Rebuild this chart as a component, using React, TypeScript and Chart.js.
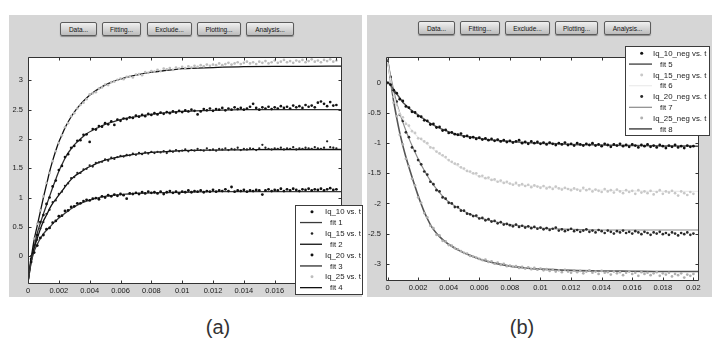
import React, { useEffect, useRef } from "react";
import { Chart, registerables } from "chart.js";

Chart.register(...registerables);

// ---------------- data ----------------
// measured points are sampled every T_STEP seconds, starting at t = 0
const T_STEP = 0.0002;

// knots of the fitted curves (s)
const FIT_T = [0, 0.0002, 0.0004, 0.0006, 0.0008, 0.001, 0.0012, 0.0014, 0.0016, 0.0018, 0.002, 0.0022, 0.0024, 0.0026, 0.0028, 0.003, 0.0034, 0.0038, 0.0042, 0.0046, 0.005, 0.0055, 0.006, 0.0065, 0.007, 0.008, 0.009, 0.01, 0.012, 0.014, 0.016, 0.018, 0.0203];

// panel (a)
const IQ10 = [-0.28, -0.1, 0.06, 0.18, 0.31, 0.36, 0.46, 0.48, 0.57, 0.6,
  0.68, 0.69, 0.77, 0.78, 0.84, 0.85, 0.9, 0.9, 0.94, 0.96,
  0.95, 0.98, 0.99, 0.97, 1.02, 1.0, 1.04, 1.02, 1.05, 1.03,
  1.06, 1.04, 0.98, 1.07, 1.06, 1.08, 1.06, 1.09, 1.07, 1.1,
  1.08, 1.09, 1.07, 1.1, 1.06, 1.09, 1.11, 1.08, 1.1, 1.07,
  1.1, 1.09, 1.12, 1.09, 1.11, 1.1, 1.12, 1.09, 1.11, 1.1,
  1.13, 1.1, 1.12, 1.11, 1.14, 1.11, 1.18, 1.1, 1.12, 1.11,
  1.13, 1.1, 1.12, 1.11, 1.13, 1.12, 1.05, 1.12, 1.14, 1.11,
  1.13, 1.12, 1.15, 1.11, 1.14, 1.12, 1.15, 1.13, 1.11, 1.14,
  1.13, 1.15, 1.12, 1.14, 1.13, 1.15, 1.12, 1.14, 1.16, 1.13,
  1.14];
const IQ15 = [-0.25, 0.0, 0.16, 0.28, 0.47, 0.58, 0.72, 0.79, 0.92, 0.95,
  1.06, 1.1, 1.2, 1.24, 1.33, 1.35, 1.42, 1.42, 1.48, 1.49,
  1.55, 1.53, 1.59, 1.6, 1.61, 1.65, 1.63, 1.68, 1.66, 1.69,
  1.71, 1.7, 1.73, 1.72, 1.75, 1.73, 1.76, 1.74, 1.77, 1.75,
  1.78, 1.76, 1.78, 1.77, 1.79, 1.76, 1.8, 1.78, 1.81, 1.79,
  1.8, 1.82, 1.79, 1.81, 1.8, 1.83, 1.81, 1.8, 1.84, 1.81,
  1.82, 1.8, 1.83, 1.82, 1.84, 1.81, 1.83, 1.82, 1.85, 1.81,
  1.83, 1.82, 1.84, 1.83, 1.81, 1.84, 1.9, 1.85, 1.83, 1.82,
  1.84, 1.83, 1.85, 1.82, 1.84, 1.83, 1.86, 1.82, 1.84, 1.83,
  1.85, 1.84, 1.83, 1.86, 1.84, 1.83, 1.85, 1.96, 1.86, 1.85,
  1.84];
const IQ20 = [-0.22, -0.05, 0.17, 0.36, 0.58, 0.7, 0.89, 1.0, 1.19, 1.29,
  1.47, 1.54, 1.69, 1.74, 1.85, 1.88, 1.97, 1.98, 2.07, 2.08,
  1.95, 2.17, 2.16, 2.22, 2.21, 2.27, 2.25, 2.3, 2.24, 2.33,
  2.31, 2.35, 2.34, 2.37, 2.36, 2.4, 2.38, 2.41, 2.39, 2.43,
  2.41, 2.44, 2.42, 2.45, 2.43, 2.46, 2.44, 2.47, 2.45, 2.48,
  2.46, 2.49, 2.47, 2.5, 2.48, 2.42, 2.47, 2.51, 2.49, 2.52,
  2.48, 2.51, 2.5, 2.53, 2.49, 2.52, 2.5, 2.54, 2.51, 2.53,
  2.5, 2.52, 2.55, 2.6, 2.53, 2.5, 2.54, 2.52, 2.55, 2.51,
  2.54, 2.52, 2.56, 2.53, 2.55, 2.52, 2.57, 2.54, 2.56, 2.53,
  2.58, 2.55, 2.57, 2.54, 2.62, 2.64, 2.6, 2.56, 2.63, 2.57,
  2.58];
const IQ25 = [-0.3, 0.0, 0.3, 0.55, 0.78, 1.02, 1.25, 1.42, 1.62, 1.79,
  1.93, 2.06, 2.2, 2.27, 2.39, 2.44, 2.52, 2.58, 2.62, 2.68,
  2.76, 2.78, 2.8, 2.86, 2.88, 2.93, 2.92, 2.97, 2.98, 3.01,
  3.03, 3.02, 3.06, 3.07, 3.05, 3.1, 3.11, 3.09, 3.14, 3.13,
  3.16, 3.15, 3.18, 3.16, 3.2, 3.19, 3.21, 3.18, 3.22, 3.2,
  3.23, 3.21, 3.24, 3.22, 3.25, 3.23, 3.26, 3.24, 3.27, 3.25,
  3.27, 3.26, 3.29, 3.26, 3.28, 3.3, 3.27, 3.29, 3.31, 3.28,
  3.3, 3.32, 3.29, 3.31, 3.28, 3.32, 3.3, 3.33, 3.29, 3.31,
  3.34, 3.3, 3.32, 3.35, 3.31, 3.33, 3.3, 3.34, 3.32, 3.35,
  3.31, 3.33, 3.36, 3.32, 3.34, 3.31, 3.35, 3.33, 3.36, 3.32,
  3.34];
const FIT1 = [-0.45, -0.12, 0.08, 0.2, 0.3, 0.38, 0.44, 0.49, 0.55, 0.6, 0.65, 0.69, 0.73, 0.77, 0.81, 0.84, 0.9, 0.94, 0.97, 1.0, 1.02, 1.035, 1.05, 1.06, 1.07, 1.08, 1.085, 1.09, 1.1, 1.1, 1.1, 1.1, 1.1];
const FIT2 = [-0.45, -0.05, 0.14, 0.3, 0.46, 0.6, 0.7, 0.81, 0.9, 0.97, 1.04, 1.11, 1.18, 1.25, 1.31, 1.36, 1.43, 1.5, 1.55, 1.6, 1.64, 1.67, 1.7, 1.72, 1.74, 1.77, 1.785, 1.8, 1.81, 1.815, 1.82, 1.82, 1.82];
const FIT3 = [-0.45, -0.1, 0.15, 0.39, 0.56, 0.72, 0.87, 1.02, 1.17, 1.31, 1.45, 1.56, 1.67, 1.76, 1.83, 1.9, 2.0, 2.09, 2.15, 2.2, 2.25, 2.29, 2.33, 2.36, 2.38, 2.42, 2.45, 2.47, 2.49, 2.5, 2.5, 2.5, 2.5];
const FIT4 = [-0.45, -0.05, 0.28, 0.52, 0.76, 1.0, 1.22, 1.44, 1.63, 1.8, 1.95, 2.07, 2.19, 2.29, 2.38, 2.46, 2.59, 2.7, 2.79, 2.86, 2.92, 2.98, 3.02, 3.06, 3.09, 3.14, 3.17, 3.2, 3.22, 3.235, 3.24, 3.24, 3.245];

// panel (b)
const IQ10N = [0.0, -0.03, -0.12, -0.17, -0.27, -0.3, -0.39, -0.41, -0.48, -0.49,
  -0.55, -0.56, -0.62, -0.63, -0.69, -0.68, -0.74, -0.73, -0.79, -0.78,
  -0.83, -0.82, -0.85, -0.86, -0.84, -0.89, -0.88, -0.91, -0.9, -0.93,
  -0.91, -0.94, -0.92, -0.95, -0.93, -0.96, -0.94, -0.97, -0.95, -0.98,
  -0.96, -0.99, -0.97, -0.95, -1.0, -0.98, -1.01, -0.97, -1.0, -0.98,
  -1.01, -0.99, -1.02, -0.99, -1.01, -1.03, -1.0, -1.02, -0.99, -1.03,
  -1.01, -1.04, -1.0, -1.02, -1.04, -1.01, -1.03, -1.0, -1.04, -1.02,
  -1.05, -1.01, -1.03, -1.06, -1.02, -1.04, -1.01, -1.05, -1.03, -1.06,
  -1.02, -1.04, -1.07, -1.03, -1.05, -1.02, -1.06, -1.04, -1.07, -1.03,
  -1.05, -1.08, -1.04, -1.06, -1.03, -1.07, -1.05, -1.08, -1.04, -1.06,
  -1.05];
const IQ15N = [0.3, 0.02, -0.23, -0.36, -0.52, -0.57, -0.68, -0.71, -0.8, -0.83,
  -0.92, -0.93, -0.97, -1.0, -1.07, -1.08, -1.14, -1.17, -1.2, -1.23,
  -1.28, -1.31, -1.34, -1.35, -1.4, -1.42, -1.46, -1.47, -1.5, -1.5,
  -1.55, -1.54, -1.58, -1.57, -1.61, -1.6, -1.64, -1.62, -1.66, -1.64,
  -1.67, -1.69, -1.66, -1.7, -1.68, -1.71, -1.69, -1.73, -1.7, -1.72,
  -1.74, -1.71, -1.75, -1.73, -1.76, -1.72, -1.75, -1.77, -1.74, -1.76,
  -1.78, -1.75, -1.77, -1.79, -1.74, -1.78, -1.76, -1.8, -1.77, -1.79,
  -1.81, -1.76, -1.8, -1.78, -1.82, -1.77, -1.8, -1.83, -1.78, -1.81,
  -1.79, -1.84, -1.78, -1.82, -1.8, -1.83, -1.79, -1.85, -1.81, -1.78,
  -1.84, -1.8, -1.82, -1.79, -1.83, -1.87, -1.8, -1.83, -1.86, -1.81,
  -1.84];
const IQ20N = [0.35, 0.1, -0.15, -0.31, -0.53, -0.63, -0.82, -0.9, -1.07, -1.13,
  -1.28, -1.35, -1.47, -1.52, -1.64, -1.68, -1.78, -1.8, -1.9, -1.92,
  -1.99, -2.0, -2.06, -2.06, -2.12, -2.12, -2.17, -2.18, -2.21, -2.2,
  -2.25, -2.24, -2.28, -2.26, -2.3, -2.29, -2.33, -2.31, -2.35, -2.34,
  -2.36, -2.38, -2.35, -2.39, -2.37, -2.4, -2.38, -2.41, -2.39, -2.42,
  -2.4, -2.43, -2.41, -2.44, -2.42, -2.4, -2.45, -2.43, -2.46, -2.44,
  -2.42, -2.46, -2.44, -2.47, -2.45, -2.43, -2.47, -2.45, -2.48, -2.44,
  -2.46, -2.49, -2.45, -2.47, -2.5, -2.46, -2.48, -2.45, -2.49, -2.47,
  -2.5, -2.46, -2.48, -2.51, -2.47, -2.49, -2.52, -2.48, -2.5, -2.47,
  -2.51, -2.49, -2.52, -2.48, -2.5, -2.53, -2.49, -2.51, -2.48, -2.52,
  -2.5];
const IQ25N = [0.32, 0.0, -0.33, -0.55, -0.86, -1.02, -1.26, -1.38, -1.59, -1.7,
  -1.9, -1.99, -2.16, -2.23, -2.37, -2.41, -2.52, -2.53, -2.62, -2.63,
  -2.69, -2.7, -2.74, -2.76, -2.79, -2.82, -2.83, -2.87, -2.88, -2.9,
  -2.92, -2.94, -2.93, -2.97, -2.96, -3.0, -2.98, -3.02, -3.0, -3.04,
  -3.03, -3.05, -3.04, -3.07, -3.05, -3.08, -3.06, -3.09, -3.07, -3.1,
  -3.08, -3.11, -3.09, -3.12, -3.1, -3.13, -3.11, -3.14, -3.1, -3.13,
  -3.15, -3.11, -3.14, -3.12, -3.16, -3.13, -3.11, -3.15, -3.13, -3.17,
  -3.12, -3.15, -3.14, -3.18, -3.13, -3.16, -3.14, -3.19, -3.15, -3.13,
  -3.17, -3.15, -3.2, -3.14, -3.17, -3.15, -3.19, -3.16, -3.14, -3.2,
  -3.16, -3.18, -3.15, -3.21, -3.17, -3.19, -3.16, -3.23, -3.18, -3.2,
  -3.17];
const FIT5 = [0.02, -0.04, -0.11, -0.18, -0.25, -0.32, -0.37, -0.42, -0.46, -0.5, -0.53, -0.57, -0.6, -0.64, -0.67, -0.7, -0.75, -0.79, -0.83, -0.86, -0.88, -0.9, -0.92, -0.94, -0.95, -0.97, -0.99, -1.0, -1.02, -1.03, -1.04, -1.045, -1.05];
const FIT6 = [0.35, 0.05, -0.2, -0.38, -0.5, -0.59, -0.66, -0.73, -0.79, -0.85, -0.9, -0.94, -0.98, -1.02, -1.06, -1.1, -1.18, -1.25, -1.32, -1.38, -1.44, -1.5, -1.55, -1.59, -1.62, -1.67, -1.7, -1.72, -1.76, -1.78, -1.79, -1.8, -1.8];
const FIT7 = [0.4, 0.12, -0.12, -0.33, -0.5, -0.65, -0.79, -0.92, -1.04, -1.15, -1.26, -1.36, -1.45, -1.54, -1.62, -1.69, -1.82, -1.93, -2.01, -2.07, -2.13, -2.19, -2.24, -2.27, -2.3, -2.35, -2.38, -2.41, -2.43, -2.44, -2.44, -2.44, -2.44];
const FIT8 = [0.4, 0.04, -0.3, -0.58, -0.83, -1.04, -1.23, -1.4, -1.56, -1.72, -1.87, -2.01, -2.14, -2.25, -2.35, -2.43, -2.55, -2.64, -2.71, -2.77, -2.82, -2.87, -2.92, -2.96, -2.99, -3.04, -3.07, -3.09, -3.11, -3.12, -3.125, -3.13, -3.13];

// ticks
const X_TICKS = [0, 0.002, 0.004, 0.006, 0.008, 0.01, 0.012, 0.014, 0.016, 0.018, 0.02];
const X_TICK_LABELS = ["0", "0.002", "0.004", "0.006", "0.008", "0.01", "0.012", "0.014", "0.016", "0.018", "0.02"];
const Y_TICKS_A = [0, 0.5, 1, 1.5, 2, 2.5, 3];
const Y_TICK_LABELS_A = ["0", "0.5", "1", "1.5", "2", "2.5", "3"];
const Y_TICKS_B = [-3, -2.5, -2, -1.5, -1, -0.5, 0];
const Y_TICK_LABELS_B = ["-3", "-2.5", "-2", "-1.5", "-1", "-0.5", "0"];

const BUTTON_LABELS = ["Data...", "Fitting...", "Exclude...", "Plotting...", "Analysis..."];
const PANEL_LABELS = ["(a)", "(b)"];

// ---------------- styling ----------------
type Series = { label: string; kind: "pts" | "fit"; data: number[]; color: string; size: number };

const SERIES_A: Series[] = [
  { label: "Iq_10 vs. t", kind: "pts", data: IQ10, color: "#111111", size: 1.4 },
  { label: "fit 1", kind: "fit", data: FIT1, color: "#3a3a3a", size: 1.3 },
  { label: "Iq_15 vs. t", kind: "pts", data: IQ15, color: "#222222", size: 1.15 },
  { label: "fit 2", kind: "fit", data: FIT2, color: "#111111", size: 1.3 },
  { label: "Iq_20 vs. t", kind: "pts", data: IQ20, color: "#111111", size: 1.35 },
  { label: "fit 3", kind: "fit", data: FIT3, color: "#2e2e2e", size: 1.3 },
  { label: "Iq_25 vs. t", kind: "pts", data: IQ25, color: "#bdbdbd", size: 1.35 },
  { label: "fit 4", kind: "fit", data: FIT4, color: "#111111", size: 1.3 },
];
const SERIES_B: Series[] = [
  { label: "Iq_10_neg vs. t", kind: "pts", data: IQ10N, color: "#111111", size: 1.4 },
  { label: "fit 5", kind: "fit", data: FIT5, color: "#555555", size: 1.5 },
  { label: "Iq_15_neg vs. t", kind: "pts", data: IQ15N, color: "#c8c8c8", size: 1.35 },
  { label: "fit 6", kind: "fit", data: FIT6, color: "#ebebeb", size: 1.2 },
  { label: "Iq_20_neg vs. t", kind: "pts", data: IQ20N, color: "#2a2a2a", size: 1.35 },
  { label: "fit 7", kind: "fit", data: FIT7, color: "#8a8a8a", size: 1.2 },
  { label: "Iq_25_neg vs. t", kind: "pts", data: IQ25N, color: "#b0b0b0", size: 1.35 },
  { label: "fit 8", kind: "fit", data: FIT8, color: "#555555", size: 1.6 },
];

const FONT = '"Liberation Sans", Arial, sans-serif';

function toDatasets(series: Series[]) {
  return series.map((s) =>
    s.kind === "pts"
      ? {
          label: s.label,
          data: s.data.map((y, i) => ({ x: i * T_STEP, y })),
          showLine: false,
          pointRadius: s.size,
          pointHoverRadius: s.size,
          pointBackgroundColor: s.color,
          pointBorderWidth: 0,
        }
      : {
          label: s.label,
          data: s.data.map((y, i) => ({ x: FIT_T[i], y })),
          showLine: true,
          borderColor: s.color,
          borderWidth: s.size,
          pointRadius: 0,
          pointHoverRadius: 0,
          cubicInterpolationMode: "monotone",
          fill: false,
        }
  );
}

const boxPlugin = {
  id: "matlabBox",
  beforeDatasetsDraw(chart: any) {
    const { ctx, chartArea: a } = chart;
    ctx.save();
    ctx.fillStyle = "#ffffff";
    ctx.fillRect(a.left, a.top, a.right - a.left, a.bottom - a.top);
    ctx.restore();
  },
  afterDatasetsDraw(chart: any) {
    const { ctx, chartArea: a, scales } = chart;
    const L = Math.round(a.left) + 0.5;
    const R = Math.round(a.right) + 0.5;
    const T = Math.round(a.top) + 0.5;
    const B = Math.round(a.bottom) + 0.5;
    const len = 3;
    ctx.save();
    ctx.strokeStyle = "#333333";
    ctx.lineWidth = 1;
    ctx.beginPath();
    ctx.rect(L, T, R - L, B - T);
    scales.x.ticks.forEach((t: any) => {
      const px = Math.round(scales.x.getPixelForValue(t.value)) + 0.5;
      ctx.moveTo(px, B);
      ctx.lineTo(px, B - len);
      ctx.moveTo(px, T);
      ctx.lineTo(px, T + len);
    });
    scales.y.ticks.forEach((t: any) => {
      const py = Math.round(scales.y.getPixelForValue(t.value)) + 0.5;
      ctx.moveTo(L, py);
      ctx.lineTo(L + len, py);
      ctx.moveTo(R, py);
      ctx.lineTo(R - len, py);
    });
    ctx.stroke();
    ctx.restore();
  },
};

// legend geometry, in canvas pixels
type LegendGeom = {
  x: number; y: number; w: number; h: number;
  first: number; step: number; dotX: number; line0: number; line1: number;
  textPts: number; textFit: number;
};

function makeLegendPlugin(series: Series[], g: LegendGeom) {
  return {
    id: "matlabLegend",
    afterDraw(chart: any) {
      const ctx = chart.ctx as CanvasRenderingContext2D;
      ctx.save();
      ctx.fillStyle = "#ffffff";
      ctx.fillRect(g.x, g.y, g.w, g.h);
      ctx.strokeStyle = "#3c3c3c";
      ctx.lineWidth = 1;
      ctx.strokeRect(g.x + 0.5, g.y + 0.5, g.w - 1, g.h - 1);
      ctx.font = `7.8px ${FONT}`;
      ctx.textBaseline = "middle";
      ctx.textAlign = "left";
      series.forEach((s, i) => {
        const cy = g.y + g.first + i * g.step;
        if (s.kind === "pts") {
          ctx.fillStyle = s.color;
          ctx.beginPath();
          ctx.arc(g.x + g.dotX, cy, s.size * 1.1, 0, Math.PI * 2);
          ctx.fill();
        } else {
          ctx.strokeStyle = s.color;
          ctx.lineWidth = Math.max(1.2, s.size);
          ctx.beginPath();
          ctx.moveTo(g.x + g.line0, cy);
          ctx.lineTo(g.x + g.line1, cy);
          ctx.stroke();
        }
        ctx.fillStyle = "#222222";
        ctx.fillText(s.label, g.x + (s.kind === "pts" ? g.textPts : g.textFit), cy + 0.5);
      });
      ctx.restore();
    },
  };
}

function makeConfig(
  series: Series[],
  xr: [number, number],
  yr: [number, number],
  yTicks: number[],
  yLabels: string[],
  padRight: number,
  xAxisH: number,
  legend: LegendGeom
): any {
  const tickFont = { family: FONT, size: 7.5 };
  return {
    type: "scatter",
    data: { datasets: toDatasets(series) },
    plugins: [boxPlugin, makeLegendPlugin(series, legend)],
    options: {
      responsive: false,
      animation: false,
      events: [],
      layout: { padding: { left: 0, top: 12, right: padRight, bottom: 0 } },
      plugins: { legend: { display: false }, tooltip: { enabled: false } },
      scales: {
        x: {
          type: "linear",
          min: xr[0],
          max: xr[1],
          grid: { display: false, drawTicks: false },
          border: { display: false },
          afterBuildTicks: (s: any) => {
            s.ticks = X_TICKS.map((v) => ({ value: v }));
          },
          afterFit: (s: any) => {
            s.height = xAxisH;
          },
          ticks: {
            autoSkip: false,
            maxRotation: 0,
            padding: 3,
            color: "#1a1a1a",
            font: tickFont,
            callback: (_v: any, i: number) => X_TICK_LABELS[i],
          },
        },
        y: {
          type: "linear",
          min: yr[0],
          max: yr[1],
          grid: { display: false, drawTicks: false },
          border: { display: false },
          afterBuildTicks: (s: any) => {
            s.ticks = yTicks.map((v) => ({ value: v }));
          },
          afterFit: (s: any) => {
            s.width = 19;
          },
          ticks: {
            autoSkip: false,
            padding: 5,
            color: "#1a1a1a",
            font: tickFont,
            callback: (_v: any, i: number) => yLabels[i],
          },
        },
      },
    },
  };
}

const BTN_A = [[60, 37], [102, 39], [147, 45], [197, 44], [246, 48]];
const BTN_B = [[418, 37], [460, 40], [505, 45], [555, 43], [604, 47]];

function Buttons({ pos, top }: { pos: number[][]; top: number }) {
  return (
    <>
      {BUTTON_LABELS.map((b, i) => (
        <div
          key={b}
          style={{
            position: "absolute", left: pos[i][0], top, width: pos[i][1], height: 14,
            boxSizing: "border-box", border: "1px solid #5c5c5c", borderRadius: 2,
            background: "linear-gradient(#f0f0f0, #bcbcbc)", boxShadow: "0 1px 1px #8a8a8a",
            fontFamily: FONT, fontSize: 6.5, color: "#111111",
            display: "flex", alignItems: "center", justifyContent: "center",
          }}
        >
          {b}
        </div>
      ))}
    </>
  );
}

// canvas placement on the page
const CANVAS_A = { left: 9, top: 45, w: 354, h: 252 };
const CANVAS_B = { left: 367, top: 45, w: 345, h: 252 };

export default function App() {
  const refA = useRef<HTMLCanvasElement>(null);
  const refB = useRef<HTMLCanvasElement>(null);

  useEffect(() => {
    const a = new Chart(
      refA.current as HTMLCanvasElement,
      makeConfig(SERIES_A, [0, 0.0203], [-0.46, 3.4], Y_TICKS_A, Y_TICK_LABELS_A, 22, 14, {
        x: 295 - CANVAS_A.left, y: 205 - CANVAS_A.top, w: 68, h: 90,
        first: 6.7, step: 10.85, dotX: 17, line0: 5, line1: 27, textPts: 30, textFit: 35,
      })
    );
    const b = new Chart(
      refB.current as HTMLCanvasElement,
      makeConfig(SERIES_B, [-0.0001, 0.0203], [-3.27, 0.43], Y_TICKS_B, Y_TICK_LABELS_B, 14, 17, {
        x: 625 - CANVAS_B.left, y: 46 - CANVAS_B.top, w: 85, h: 90,
        first: 7.3, step: 10.8, dotX: 16.7, line0: 4, line1: 27, textPts: 28, textFit: 35,
      })
    );
    return () => {
      a.destroy();
      b.destroy();
    };
  }, []);

  return (
    <div
      style={{
        position: "fixed", left: 0, top: 0, width: 720, height: 354,
        background: "#ffffff", overflow: "hidden",
      }}
    >
      <div style={{ position: "absolute", left: 9, top: 15, width: 353, height: 282, background: "#d6d6d6" }} />
      <div style={{ position: "absolute", left: 367, top: 15, width: 345, height: 282, background: "#d6d6d6" }} />
      <canvas
        ref={refA}
        width={CANVAS_A.w}
        height={CANVAS_A.h}
        style={{ position: "absolute", left: CANVAS_A.left, top: CANVAS_A.top, width: CANVAS_A.w, height: CANVAS_A.h }}
      />
      <canvas
        ref={refB}
        width={CANVAS_B.w}
        height={CANVAS_B.h}
        style={{ position: "absolute", left: CANVAS_B.left, top: CANVAS_B.top, width: CANVAS_B.w, height: CANVAS_B.h }}
      />
      <Buttons pos={BTN_A} top={22} />
      <Buttons pos={BTN_B} top={21} />
      {PANEL_LABELS.map((l, i) => (
        <div
          key={l}
          style={{
            position: "absolute", left: i === 0 ? 178 : 482, top: 314, width: 80, textAlign: "center",
            fontFamily: FONT, fontSize: 20, lineHeight: "26px", color: "#333333",
          }}
        >
          {l}
        </div>
      ))}
    </div>
  );
}
